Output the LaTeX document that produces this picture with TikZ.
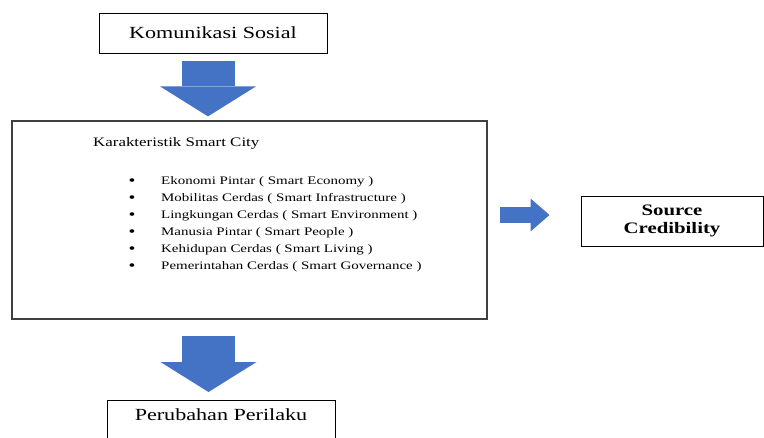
\documentclass[tikz,border=0pt]{standalone}
\usepackage{fontspec}
\setmainfont{Liberation Serif}[FakeStretch=1.3]
\usetikzlibrary{arrows.meta}
\definecolor{arrowblue}{RGB}{68,114,196}
\definecolor{boxgray}{RGB}{64,64,64}
\tikzset{
    box/.style={draw=black,line width=1pt,inner sep=0pt},
    bigdown/.style={arrowblue,line width=53pt,-{Triangle[length=30pt,width=96pt,line width=0pt]}},
    bigright/.style={arrowblue,line width=16pt,-{Triangle[length=19pt,width=33pt,line width=0pt]}}
}
\begin{document}
\begin{tikzpicture}[x=1pt,y=-1pt]
        \useasboundingbox (0,0) rectangle (764,437);
        \clip (0,0) rectangle (764,437);
        \node[box,minimum width=228pt,minimum height=40pt,font=\fontsize{17}{20}\selectfont] (kom) at (213,33) {Komunikasi Sosial};
        \node[box,draw=boxgray,line width=1.3pt,minimum width=475pt,minimum height=198pt] (karak) at (249.5,220) {};
        \node[anchor=west,inner sep=0pt,font=\fontsize{13}{15}\selectfont] (judul) at (93,143) {Karakteristik Smart City};
        \foreach \i/\txt in {1/Ekonomi Pintar ( Smart Economy ),2/Mobilitas Cerdas ( Smart Infrastructure ),3/Lingkungan Cerdas ( Smart Environment ),4/Manusia Pintar ( Smart People ),5/Kehidupan Cerdas ( Smart Living ),6/Pemerintahan Cerdas ( Smart Governance )}
        {
            \node[inner sep=0pt,font=\fontsize{15}{15}\selectfont] (bul\i) at (132,165+17*\i) {\textbullet};
            \node[anchor=west,inner sep=0pt,font=\fontsize{11.5}{13}\selectfont] (item\i) at (161,165+17*\i) {\txt};
        }
        \node[box,minimum width=182pt,minimum height=50pt,align=center,font=\fontsize{16}{18}\selectfont\bfseries] (src) at (672,221) {Source\\Credibility};
        \node[box,anchor=north,minimum width=228pt,inner ysep=7pt,text height=13pt,text depth=30pt,font=\fontsize{17}{20}\selectfont] (per) at (221,400) {Perubahan Perilaku};
        % panah biru
        \draw[bigdown,shorten >=4pt] ([xshift=-5pt,yshift=-7pt]kom.south) -- ([xshift=-5pt]kom.south |- karak.north);
        \draw[bigdown,shorten >=8pt] ([xshift=-41pt,yshift=-16pt]karak.south) coordinate (b0) -- (b0 |- per.north);
        \draw[bigright] ([xshift=12pt,yshift=5pt]karak.east) -- ([xshift=-31pt,yshift=6pt]src.west);
    \end{tikzpicture}
\end{document}
